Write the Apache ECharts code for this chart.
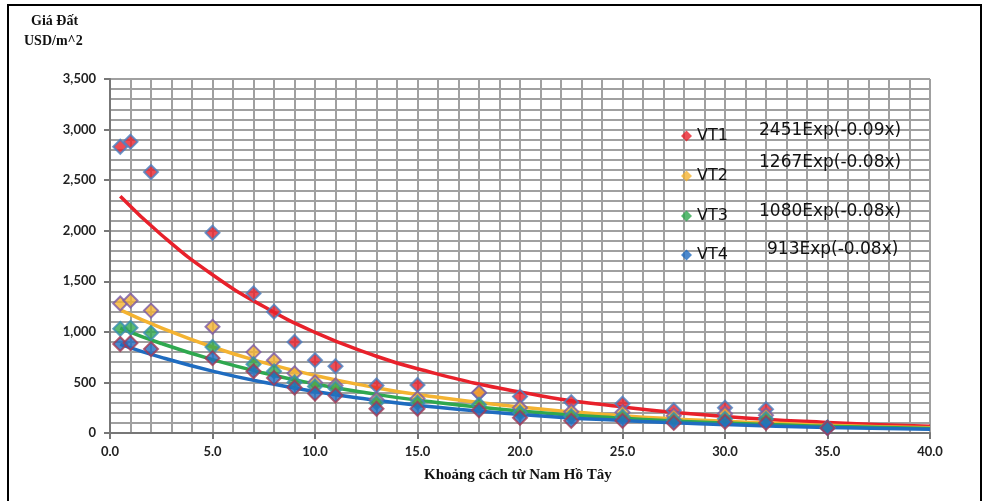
<!DOCTYPE html>
<html>
<head>
<meta charset="utf-8">
<script src="https://cdn.jsdelivr.net/npm/echarts@6/dist/echarts.min.js"></script>
<style>
  html, body { margin: 0; padding: 0; background: #fff; }
  #chart { width: 989px; height: 501px; }
</style>
</head>
<body>
<div id="chart"></div>
<script>
// khoảng cách (km) của các điểm khảo sát
const distances = [0.5, 1, 2, 5, 7, 8, 9, 10, 11, 13, 15, 18, 20, 22.5, 25, 27.5, 30, 32, 35];
const vt1 = [2830, 2880, 2580, 1980, 1380, 1200, 900, 720, 660, 470, 475, 395, 360, 305, 290, 225, 250, 235, 50];
const vt2 = [1280, 1310, 1210, 1050, 800, 720, 590, 500, 470, 330, 340, 400, 250, 210, 205, 170, 190, 175, 52];
const vt3 = [1030, 1040, 990, 850, 680, 610, 500, 460, 440, 300, 300, 280, 200, 165, 160, 130, 140, 140, 55];
const vt4 = [880, 890, 830, 740, 610, 545, 450, 390, 370, 240, 240, 225, 150, 120, 120, 100, 110, 100, 50];

// đường xu hướng
const trendX = [0.5, 2.5, 5, 7.5, 10, 12.5, 15, 20, 25, 30, 35, 40];
const trend1 = [2340, 1960, 1565, 1250, 995, 795, 635, 405, 258, 164, 105, 67];
const trend2 = [1217, 1039, 850, 696, 569, 466, 381, 256, 171, 115, 77, 52];
const trend3 = [1038, 885, 725, 593, 485, 397, 325, 218, 146, 98, 66, 44];
const trend4 = [877, 748, 612, 501, 410, 336, 275, 184, 123, 83, 55, 37];

const names = ['VT1', 'VT2', 'VT3', 'VT4'];
const equations = ['2451Exp(-0.09x)', '1267Exp(-0.08x)', '1080Exp(-0.08x)', '913Exp(-0.08x)'];
const colors = ['#e8212b', '#f4b331', '#2fa84f', '#1f6cc0'];
const borders = ['#4a7fc0', '#7b5aa6', '#3a8fb0', '#a23a55'];

const pts = [vt1, vt2, vt3, vt4];
const trends = [trend1, trend2, trend3, trend4];

const myChart = echarts.init(document.getElementById('chart'));

const gridLine = { lineStyle: { color: '#a0a0a0', width: 2 } };
const labelFont = { color: '#222', fontFamily: 'Lato', fontSize: 13, fontWeight: 'bold' };

let series = [];
trends.forEach(function (t, i) {
  series.push({
    name: 'trend' + (i + 1),
    type: 'line',
    smooth: true,
    showSymbol: false,
    silent: true,
    z: 2,
    lineStyle: { color: colors[i], width: 3.5 },
    data: trendX.map(function (x, k) { return [x, t[k]]; })
  });
});
pts.forEach(function (p, i) {
  series.push({
    name: names[i],
    type: 'scatter',
    symbol: 'diamond',
    symbolSize: 14,
    z: 3,
    itemStyle: { color: colors[i], borderColor: borders[i], borderWidth: 2 },
    data: distances.map(function (x, k) { return [x, p[k]]; })
  });
});

const legendTops = [123, 163, 203, 242];
const eqPos = [[759, 122], [759, 154], [759, 203], [767, 241]];

const option = {
  animation: false,
  grid: { left: 110, right: 59, top: 79, bottom: 68 },
  legend: names.map(function (n, i) {
    return {
      data: [n],
      left: 676,
      top: legendTops[i],
      itemWidth: 11,
      itemHeight: 11,
      itemGap: 4,
      icon: 'diamond',
      itemStyle: { borderWidth: 0 },
      textStyle: { fontFamily: 'DejaVu Sans', fontSize: 16, color: '#111' }
    };
  }),
  xAxis: {
    type: 'value',
    min: 0,
    max: 40,
    interval: 5,
    minorTick: { show: false, splitNumber: 5 },
    minorSplitLine: { show: true, lineStyle: { color: '#a0a0a0', width: 2 } },
    splitLine: gridLine,
    axisLine: { lineStyle: { color: '#777', width: 2 } },
    axisTick: { show: true, length: 6, lineStyle: { color: '#777', width: 2 } },
    axisLabel: Object.assign({ margin: 12, formatter: function (v) { return v.toFixed(1); } }, labelFont)
  },
  yAxis: {
    type: 'value',
    min: 0,
    max: 3500,
    interval: 500,
    minorTick: { show: false, splitNumber: 5 },
    minorSplitLine: { show: true, lineStyle: { color: '#a0a0a0', width: 2 } },
    splitLine: gridLine,
    axisLine: { show: true, lineStyle: { color: '#777', width: 2 } },
    axisTick: { show: true, length: 6, lineStyle: { color: '#777', width: 2 } },
    axisLabel: Object.assign({ margin: 14, formatter: function (v) { return v.toLocaleString('en-US'); } }, labelFont)
  },
  graphic: [
    {
      type: 'rect', z: 100,
      shape: { x: 8, y: 5, width: 973, height: 520 },
      style: { fill: 'none', stroke: '#000', lineWidth: 2 },
      silent: true
    },
    {
      type: 'text', left: 31, top: 14, z: 100,
      style: { text: 'Giá Đất', fontFamily: 'Liberation Serif', fontWeight: 'bold', fontSize: 14, fill: '#111' }
    },
    {
      type: 'text', left: 24, top: 34, z: 100,
      style: { text: 'USD/m^2', fontFamily: 'Liberation Serif', fontWeight: 'bold', fontSize: 14, fill: '#111' }
    },
    {
      type: 'text', left: 424, top: 468, z: 100,
      style: { text: 'Khoảng cách từ Nam Hồ Tây', fontFamily: 'Liberation Serif', fontWeight: 'bold', fontSize: 15, fill: '#111' }
    }
  ].concat(equations.map(function (e, i) {
    return {
      type: 'text', left: eqPos[i][0], top: eqPos[i][1], z: 100,
      style: { text: e, fontFamily: 'DejaVu Sans', fontSize: 17, fill: '#111' }
    };
  })),
  series: series
};
myChart.setOption(option);
</script>
</body>
</html>
